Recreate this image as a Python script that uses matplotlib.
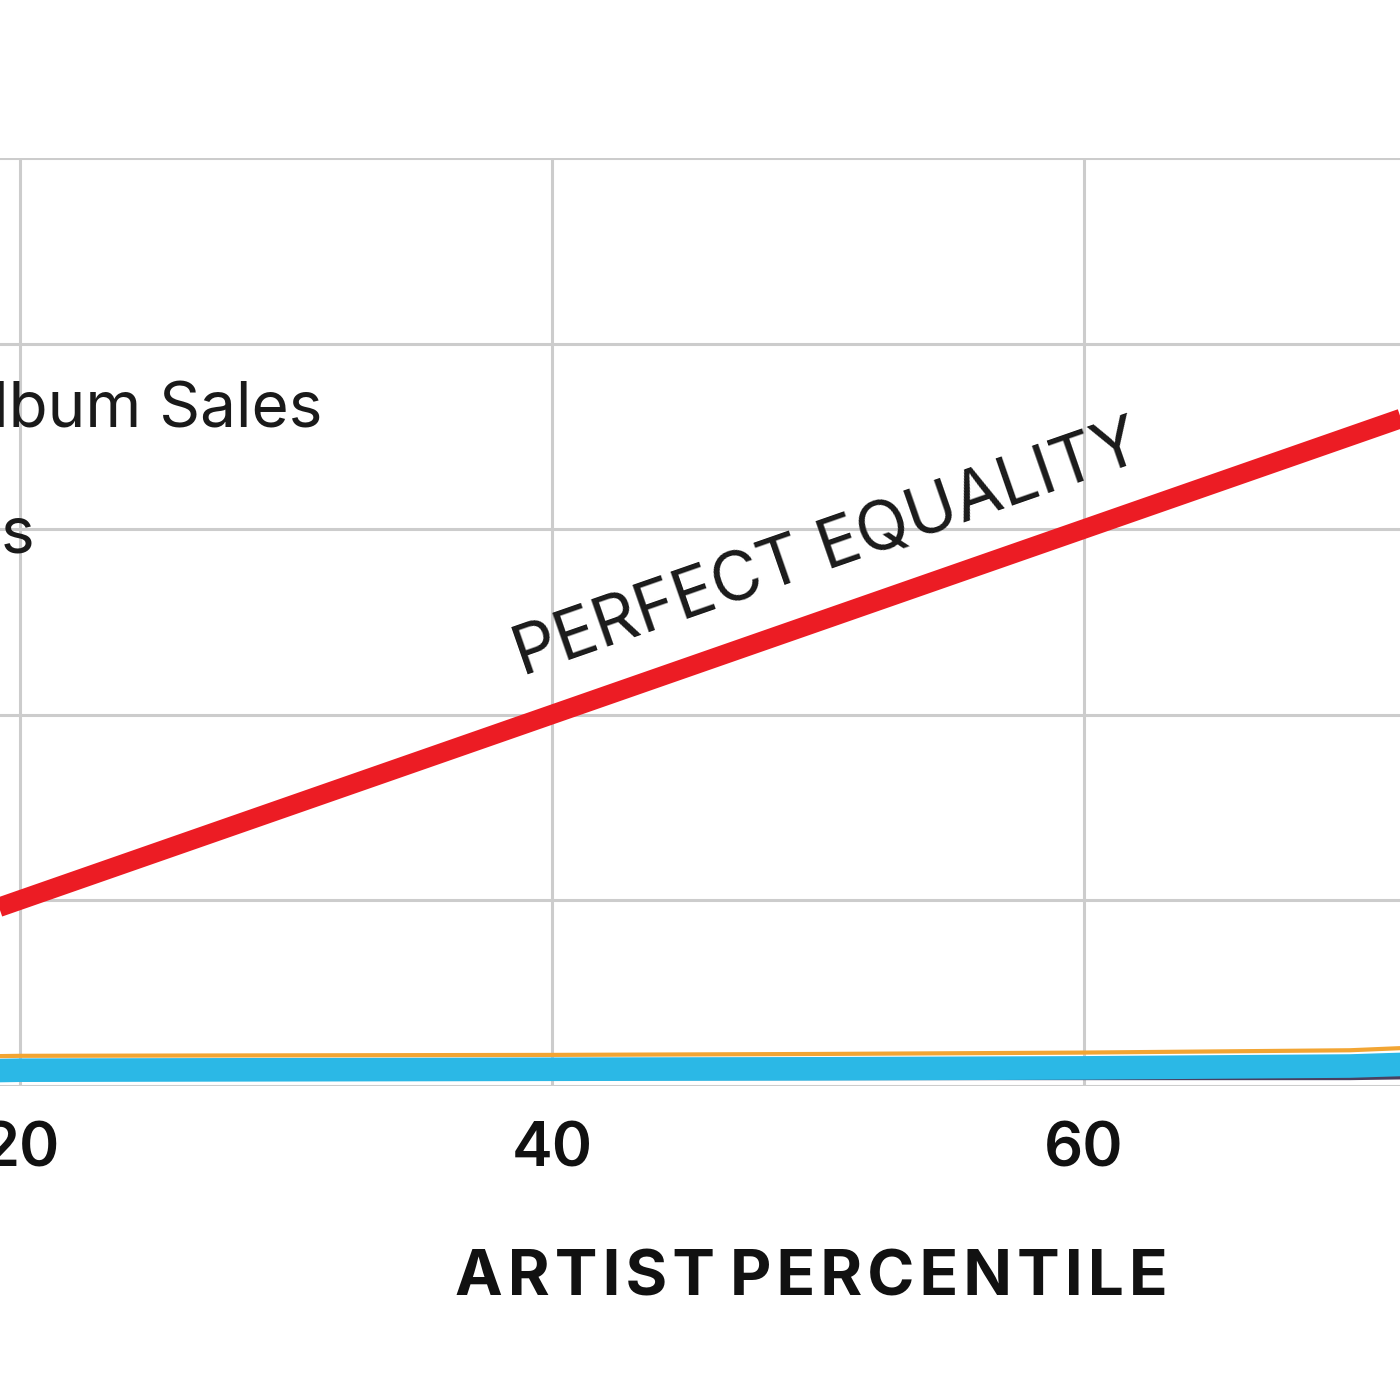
import numpy as np
import matplotlib
matplotlib.use('Agg')
import matplotlib.pyplot as plt

# artist percentile (x) and cumulative share (y)
percentile = [0, 10, 20, 30, 40, 50, 60, 70, 80, 90, 100]
equality = [0, 10, 20, 30, 40, 50, 60, 70, 80, 90, 100]
plays_share = [0, 1.2, 1.65, 1.7, 1.75, 1.8, 1.9, 2.1, 3.0, 8.0, 100]
album_share = [0, 2.8, 3.2, 3.25, 3.3, 3.4, 3.55, 3.8, 5.0, 10.0, 100]
other_share = [0, 0.7, 0.8, 0.8, 0.8, 0.8, 0.8, 0.8, 1.2, 4.0, 100]

xticks = [0, 20, 40, 60, 80, 100]
yticks = [0, 20, 40, 60, 80, 100]

fig = plt.figure(figsize=(14, 14), dpi=100)
ax = fig.add_axes([-0.36571, 0.22464, 1.9, 0.6625])

ax.plot(percentile, other_share, color='#4a4060', lw=3, zorder=3, solid_capstyle='butt')
ax.plot(percentile, plays_share, color='#2bb8e6', lw=17, zorder=4, solid_capstyle='butt')
ax.plot(percentile, album_share, color='#f2a533', lw=3, zorder=5, solid_capstyle='butt')
ax.plot(percentile, equality, color='#ec1c24', lw=14, zorder=6, solid_capstyle='butt')

ax.set_xlim(0, 100)
ax.set_ylim(0, 100)
ax.set_xticks(xticks)
ax.set_yticks(yticks)
ax.grid(True, color='#cccccc', lw=2.2, zorder=0)
ax.set_axisbelow(True)
for s in ax.spines.values():
    s.set_visible(False)
ax.tick_params(length=0, pad=26, labelsize=44, labelcolor='#111111')
for lab in ax.get_xticklabels():
    lab.set_fontfamily('Inter')
    lab.set_fontweight('semibold')

ax.set_xlabel('A R T I S T   P E R C E N T I L E'.replace(' ', '\u200a'), fontsize=46,
              fontfamily=['Inter', 'DejaVu Sans'], fontweight='bold', labelpad=50,
              color='#111111')
ax.xaxis.label.set_x(0.4975)

ax.text(31.35, 70.9, 'Album Sales', fontsize=46, fontfamily='Inter',
        ha='right', va='baseline', color='#1a1a1a')
ax.text(20.56, 57.4, 'Song Plays', fontsize=46, fontfamily='Inter',
        ha='right', va='baseline', color='#1a1a1a')

ax.text(50.4, 57.65, 'PERFECT EQUALITY', fontsize=49, fontfamily='Inter',
        fontweight='normal', rotation=19.2, rotation_mode='anchor',
        ha='center', va='center', color='#1a1a1a')

fig.savefig('out.png', dpi=100)
